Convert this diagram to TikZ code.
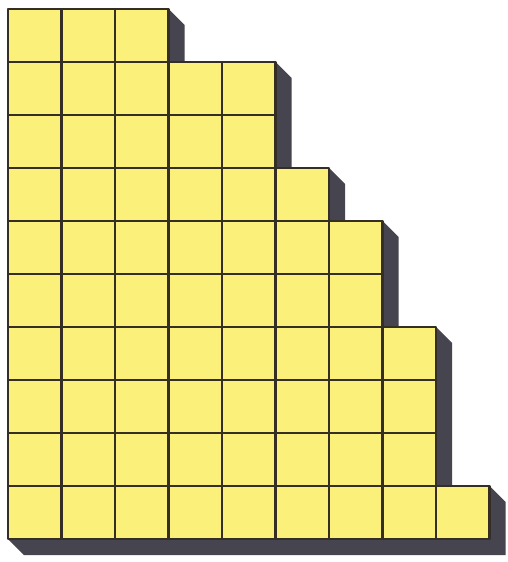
\documentclass[tikz,border=0pt]{standalone}
\usepackage{tikz}
\definecolor{cbox}{HTML}{FAF07A}
\definecolor{cline}{HTML}{352E24}
\definecolor{cshade}{HTML}{46444F}
\tikzset{
  cell/.style={draw=cline, fill=cbox, line width=2.4pt, line join=round},
  shade/.style={fill=cshade, draw=none},
}
\def\cw{53.5}
\def\rh{53}
\def\dd{16}
\begin{document}
\begin{tikzpicture}[x=1pt,y=-1pt]
\useasboundingbox (0,0) rectangle (507,562);
\begin{scope}[shift={(8,9)}]
% shadow of the staircase
\fill[shade] (0,0) -- ({3*\cw},0) -- ({3*\cw+\dd},\dd) -- ({3*\cw+\dd},{1*\rh})
  -- ({5*\cw},{1*\rh}) -- ({5*\cw+\dd},{1*\rh+\dd}) -- ({5*\cw+\dd},{3*\rh})
  -- ({6*\cw},{3*\rh}) -- ({6*\cw+\dd},{3*\rh+\dd}) -- ({6*\cw+\dd},{4*\rh})
  -- ({7*\cw},{4*\rh}) -- ({7*\cw+\dd},{4*\rh+\dd}) -- ({7*\cw+\dd},{6*\rh})
  -- ({8*\cw},{6*\rh}) -- ({8*\cw+\dd},{6*\rh+\dd}) -- ({8*\cw+\dd},{9*\rh})
  -- ({9*\cw},{9*\rh}) -- ({9*\cw+\dd},{9*\rh+\dd}) -- ({9*\cw+\dd},{10*\rh+\dd})
  -- (\dd,{10*\rh+\dd}) -- (0,{10*\rh}) -- cycle;
% rows of squares
\foreach \n [count=\r from 0] in {3,5,5,6,7,7,8,8,8,9} {
  \foreach \c in {1,...,\n}
    \draw[cell] ({(\c-1)*\cw},{\r*\rh}) rectangle ({\c*\cw},{(\r+1)*\rh});
}
\end{scope}
\end{tikzpicture}
\end{document}
